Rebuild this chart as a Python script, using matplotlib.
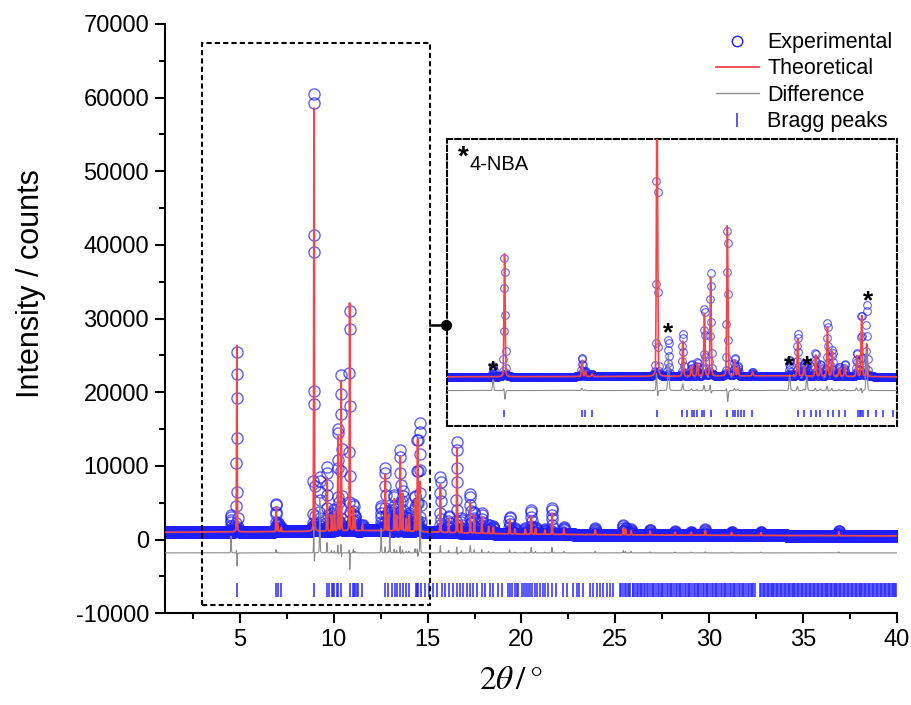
import numpy as np
import matplotlib.pyplot as plt
from matplotlib.lines import Line2D
from matplotlib.patches import Rectangle

plt.rcParams['font.family'] = ['Liberation Sans', 'DejaVu Sans']
plt.rcParams['mathtext.fontset'] = 'stix'
plt.rcParams['axes.unicode_minus'] = False

peak_pos = [4.523, 4.832, 6.924, 7.014, 7.193, 8.9445, 9.253, 9.643, 9.877, 10.034,
            10.224, 10.392, 10.843, 11.043, 11.127, 11.523, 12.523, 12.743, 12.913, 12.987,
            13.224, 13.353, 13.543, 13.672, 13.863, 14.013, 14.334, 14.465, 14.603, 15.683,
            16.123, 16.563, 16.803, 17.273, 17.484, 17.893, 18.253, 18.503, 19.373, 19.653,
            20.203, 20.523, 20.753, 21.253, 21.633, 22.263, 23.933, 25.433, 25.553, 25.853,
            26.863, 28.193, 29.053, 29.803, 31.203, 32.763, 36.923]
obs_height = [2300, 24600, 3900, 1200, 600, 62000, 7500, 8800, 2500, 3000,
              14300, 21300, 30400, 3700, 2000, 800, 3400, 8700, 2500, 2800,
              5000, 2500, 11200, 5500, 2000, 2500, 5000, 13000, 15000, 7600,
              2300, 12500, 2000, 5400, 3000, 2800, 1200, 1000, 2400, 800,
              800, 3300, 1000, 700, 3700, 1000, 900, 1300, 1000, 800,
              700, 500, 500, 800, 500, 500, 700]
calc_height = [0, 25800, 3500, 1100, 600, 60000, 0, 7500, 2200, 2800,
               13500, 20800, 32000, 3300, 1800, 800, 0, 8000, 2300, 0,
               4600, 2200, 10500, 5200, 1800, 2300, 4500, 13000, 7000, 6700,
               2000, 12000, 1700, 4400, 2600, 2400, 1000, 900, 2000, 700,
               700, 2600, 800, 600, 3000, 800, 700, 1000, 800, 600,
               550, 400, 400, 650, 400, 400, 550]

# background level read at a few angles
bg_pos = [1, 5, 10, 12, 15, 17, 20, 25, 30, 35, 40]
bg_level = [1000, 1050, 1150, 1250, 1050, 900, 750, 650, 600, 550, 500]

bragg_pos = [4.83, 6.92, 7.01, 7.19, 8.94, 9.62, 9.76, 9.88, 9.95, 10.03,
             10.15, 10.22, 10.39, 10.84, 11.00, 11.05, 11.13, 11.21, 11.30, 11.52,
             12.74, 12.91, 13.09, 13.24, 13.35, 13.55, 13.68, 13.86, 14.02, 14.36,
             14.41, 14.46, 14.51, 14.63, 14.85, 15.05, 15.30, 15.52, 15.75, 15.93,
             16.16, 16.34, 16.55, 16.73, 16.91, 17.08, 17.26, 17.44, 17.65, 17.88,
             18.06, 18.33, 18.50, 18.77, 18.95, 19.30, 19.38, 19.48, 19.66, 19.75,
             19.84, 20.01, 20.14, 20.25, 20.37, 20.46, 20.55, 20.73, 20.81, 20.99,
             21.13, 21.26, 21.44, 21.61, 21.85, 22.24, 22.41, 22.77, 22.95, 23.09,
             23.30, 23.66, 23.83, 24.01, 24.19, 24.37, 24.55, 24.72, 24.90,
             25.26, 25.31, 25.41, 25.52, 25.57, 25.66, 25.74, 25.81, 25.93, 25.97,
             26.06, 26.14, 26.19, 26.31, 26.38, 26.43, 26.55, 26.61, 26.72, 26.77,
             26.84, 26.96, 27.02, 27.08, 27.19, 27.27, 27.32, 27.44, 27.50, 27.56,
             27.67, 27.75, 27.80, 27.92, 27.98, 28.04, 28.15, 28.22, 28.28, 28.39,
             28.46, 28.52, 28.63, 28.70, 28.76, 28.87, 28.94, 29.00, 29.11, 29.18,
             29.24, 29.35, 29.42, 29.48, 29.59, 29.66, 29.72, 29.83, 29.90, 29.96,
             30.07, 30.14, 30.20, 30.31, 30.38, 30.44, 30.55, 30.62, 30.68, 30.79,
             30.86, 30.92, 31.03, 31.10, 31.16, 31.27, 31.34, 31.40, 31.51, 31.58,
             31.64, 31.75, 31.82, 31.88, 31.99, 32.06, 32.12, 32.23, 32.30, 32.36,
             32.45, 32.72, 32.78, 32.86, 32.93, 32.99, 33.07, 33.13, 33.22, 33.28,
             33.34, 33.43, 33.49, 33.55, 33.64, 33.70, 33.77, 33.85, 33.91, 33.98,
             34.06, 34.12, 34.19, 34.27, 34.33, 34.40, 34.48, 34.54, 34.61, 34.69,
             34.75, 34.82, 34.90, 34.96, 35.03, 35.11, 35.17, 35.24, 35.32, 35.38,
             35.45, 35.53, 35.59, 35.66, 35.74, 35.80, 35.87, 35.95, 36.01, 36.08,
             36.16, 36.22, 36.29, 36.37, 36.43, 36.50, 36.58, 36.64, 36.71, 36.79,
             36.85, 36.92, 37.00, 37.06, 37.13, 37.21, 37.27, 37.34, 37.42, 37.48,
             37.55, 37.63, 37.69, 37.76, 37.84, 37.90, 37.97, 38.05, 38.11, 38.18,
             38.26, 38.32, 38.39, 38.47, 38.53, 38.60, 38.68, 38.74, 38.81, 38.89,
             38.95, 39.02, 39.10, 39.16, 39.23, 39.31, 39.37, 39.44, 39.52, 39.58,
             39.65, 39.73, 39.79, 39.86, 39.94, 39.99]

# 4-NBA impurity reflections marked in the inset
star_pos = [4.52, 9.25, 12.52, 12.99, 14.63]
star_y = [2200, 10000, 3200, 3200, 16600]

tth = np.round(np.arange(1.0, 40.0001, 0.01), 2)
bg = np.interp(tth, bg_pos, bg_level)
fwhm = 0.037
eta = 0.15


def pattern(heights, shift=0.0):
    y = bg.copy()
    for p, h in zip(peak_pos, heights):
        d = (tth - p - shift) / fwhm
        g = np.exp(-4 * np.log(2) * d ** 2)
        lor = 1 / (1 + 4 * d ** 2)
        y += h * ((1 - eta) * g + eta * lor)
    return y


obs = pattern(obs_height)
calc = pattern(calc_height, 0.001)
diff = obs - calc - 1800

blue = '#1e1eff'
red = '#f04848'
grey = '#8a8a8a'

fig = plt.figure(figsize=(9.12, 7.05), dpi=100)
ax = fig.add_axes([0.1809, 0.1301, 0.8022, 0.8359])


def draw(a, ms, mew, lw, tick_lo, tick_hi):
    a.plot(tth, obs, 'o', mfc='none', mec=blue, ms=ms, mew=mew, alpha=0.7, zorder=2)
    a.plot(tth, calc, color=red, lw=lw, zorder=3)
    a.plot(tth, diff, color=grey, lw=0.8, zorder=3)
    a.vlines(bragg_pos, tick_lo, tick_hi, color='#2a2aff', lw=1.1, zorder=3)


draw(ax, 8, 1.0, 1.3, -7800, -5900)
ax.set_xlim(1, 40)
ax.set_ylim(-10000, 70000)
ax.set_xticks([5, 10, 15, 20, 25, 30, 35, 40])
ax.set_xticks(np.arange(2.5, 40, 5), minor=True)
ax.set_yticks(np.arange(-10000, 70001, 10000))
ax.set_yticks(np.arange(-5000, 70000, 10000), minor=True)
for s in ['top', 'right']:
    ax.spines[s].set_visible(False)
for s in ['left', 'bottom']:
    ax.spines[s].set_linewidth(1.5)
ax.tick_params(which='major', length=7.5, width=1.5, labelsize=17, pad=4)
ax.tick_params(which='minor', length=4.5, width=1.5)
ax.set_ylabel('Intensity / counts', fontsize=22)
ax.yaxis.set_label_coords(-0.163, 0.559)
ax.set_xlabel(r'$\mathrm{2}\mathit{\theta}\,/\,\mathrm{\degree}$', fontsize=24)
ax.xaxis.set_label_coords(0.472, -0.088)

# dashed box marking the zoomed range
ax.add_patch(Rectangle((2.95, -8865), 12.18, 76295, fill=False, ec='k', lw=1.5,
                       ls=(0, (2.5, 1.5)), clip_on=False, zorder=4))

handles = [Line2D([], [], marker='o', mfc='none', mec=blue, ls='none', ms=7.5, mew=1.0),
           Line2D([], [], color=red, lw=1.3),
           Line2D([], [], color=grey, lw=0.9),
           Line2D([], [], marker='|', color='#2a2aff', ls='none', ms=10, mew=1.1)]
fig.legend(handles, ['Experimental', 'Theoretical', 'Difference', 'Bragg peaks'],
           loc='upper right', bbox_to_anchor=(1.0, 0.982), frameon=False,
           fontsize=15.5, handlelength=2.0, handletextpad=0.4, labelspacing=0.25)

# inset
axi = fig.add_axes([447 / 912, 1 - 426 / 705, 450 / 912, 287 / 705])
draw(axi, 5.5, 0.8, 1.2, -7300, -5800)
axi.set_xlim(3.28, 15.42)
axi.set_ylim(-9100, 50000)
axi.set_xticks([])
axi.set_yticks([])
for s in axi.spines.values():
    s.set_linestyle((0, (2.5, 1.5)))
    s.set_linewidth(1.5)
for x, y in zip(star_pos, star_y):
    axi.text(x, y, '*', fontsize=19, fontweight='bold', ha='center', va='center')
axi.text(0.036, 0.935, '*', transform=axi.transAxes, fontsize=20, fontweight='bold',
         ha='center', va='center')
axi.text(0.051, 0.91, '4-NBA', transform=axi.transAxes, fontsize=14.5, va='center')

# connector from box to inset
yc = 1 - 325 / 705
fig.add_artist(Line2D([430 / 912, 446 / 912], [yc, yc], color='k', lw=1.8))
fig.add_artist(Line2D([446 / 912], [yc], marker='o', color='k', ms=7))

fig.savefig('out.png', dpi=100)
